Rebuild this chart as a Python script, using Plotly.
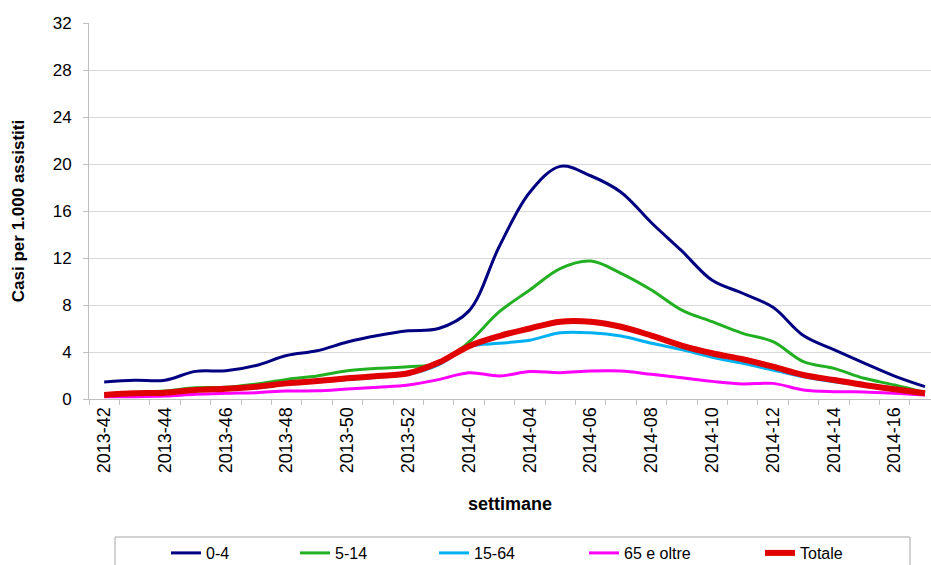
import plotly.graph_objects as go

weeks = ["2013-42", "2013-43", "2013-44", "2013-45", "2013-46", "2013-47", "2013-48",
         "2013-49", "2013-50", "2013-51", "2013-52", "2014-01", "2014-02", "2014-03",
         "2014-04", "2014-05", "2014-06", "2014-07", "2014-08", "2014-09", "2014-10",
         "2014-11", "2014-12", "2014-13", "2014-14", "2014-15", "2014-16", "2014-17"]

age_0_4 = [1.45, 1.6, 1.6, 2.35, 2.4, 2.85, 3.7, 4.1, 4.85, 5.4, 5.8, 6.0, 7.5, 13.0,
           17.6, 19.8, 19.0, 17.6, 15.0, 12.6, 10.1, 9.0, 7.8, 5.4, 4.2, 3.05, 1.95, 1.05]
age_5_14 = [0.45, 0.55, 0.68, 0.96, 1.0, 1.28, 1.67, 1.96, 2.41, 2.61, 2.75, 3.04, 4.85, 7.43,
            9.28, 11.1, 11.74, 10.7, 9.28, 7.57, 6.58, 5.59, 4.88, 3.18, 2.61, 1.76, 1.19, 0.54]
age_15_64 = [0.3, 0.45, 0.5, 0.7, 0.8, 0.95, 1.25, 1.45, 1.65, 1.85, 2.1, 2.9, 4.45, 4.74,
             5.0, 5.64, 5.64, 5.36, 4.74, 4.2, 3.55, 3.04, 2.47, 1.9, 1.47, 1.19, 0.91, 0.49]
age_65 = [0.2, 0.2, 0.25, 0.4, 0.48, 0.54, 0.68, 0.7, 0.85, 1.0, 1.19, 1.65, 2.24, 1.96,
          2.33, 2.24, 2.38, 2.38, 2.1, 1.8, 1.5, 1.28, 1.33, 0.77, 0.62, 0.6, 0.49, 0.34]
totale = [0.34, 0.48, 0.54, 0.77, 0.88, 1.05, 1.33, 1.53, 1.76, 1.96, 2.19, 3.1, 4.5, 5.36,
          6.0, 6.58, 6.58, 6.15, 5.4, 4.55, 3.89, 3.38, 2.75, 2.04, 1.62, 1.19, 0.83, 0.49]

series_names = ["0-4", "5-14", "15-64", "65 e oltre", "Totale"]
series_values = [age_0_4, age_5_14, age_15_64, age_65, totale]
y_ticks = [0, 4, 8, 12, 16, 20, 24, 28, 32]

colors = ["#000080", "#22B022", "#00B0F0", "#FF00FF", "#E00000"]
widths = [3, 3, 3, 3, 6]
legend_ids = ["legend", "legend2", "legend3", "legend4", "legend5"]
legend_x_px = [166, 295, 434, 584, 760]

FONT = "Arial, Liberation Sans, sans-serif"
W, H = 931, 565

x = list(range(len(weeks)))

fig = go.Figure()
for name, vals, col, w, lid in zip(series_names, series_values, colors, widths, legend_ids):
    fig.add_trace(go.Scatter(
        x=x, y=vals, name=name, mode="lines",
        line=dict(color=col, width=w, shape="spline", smoothing=1),
        legend=lid, hoverinfo="skip",
    ))

left, right, top, bottom = 89, 0, 23, 166
plot_w = W - left - right
plot_h = H - top - bottom
cat_px = 30.4
x_max = plot_w / cat_px - 0.5

layout_legends = {}
for lid, px in zip(legend_ids, legend_x_px):
    layout_legends[lid] = dict(
        xref="container", yref="container",
        x=px / W, y=1 - 553 / H, xanchor="left", yanchor="middle",
        orientation="h", bgcolor="rgba(0,0,0,0)", borderwidth=0,
        font=dict(family=FONT, size=16, color="#000000"),
        itemwidth=30,
    )

fig.update_layout(
    width=W, height=H,
    margin=dict(l=left, r=right, t=top, b=bottom, autoexpand=False),
    paper_bgcolor="white", plot_bgcolor="white",
    font=dict(family=FONT, color="#000000"),
    showlegend=True,
    hovermode=False,
    **layout_legends,
    xaxis=dict(
        range=[-0.5, x_max], automargin=False,
        tickvals=x[::2], ticktext=weeks[::2],
        tickangle=-90, ticks="", showgrid=False, zeroline=False,
        showline=True, linecolor="#BFBFBF", linewidth=1,
        tickfont=dict(family=FONT, size=18, color="#000000"),
        minor=dict(tick0=-0.5, dtick=1, ticks="outside", ticklen=5,
                   tickcolor="#BFBFBF", tickwidth=1, showgrid=False),
        title=dict(text="<b>settimane</b>", font=dict(family=FONT, size=18, color="#000000"),
                   standoff=25),
    ),
    yaxis=dict(
        range=[0, 32], tickvals=y_ticks, automargin=False,
        showgrid=True, gridcolor="#D9D9D9", gridwidth=1, zeroline=False,
        showline=True, linecolor="#BFBFBF", linewidth=1,
        ticks="outside", ticklen=5, tickcolor="#BFBFBF", ticklabelstandoff=8,
        tickfont=dict(family=FONT, size=17, color="#000000"),
        title=dict(text="<b>Casi per 1.000 assistiti</b>",
                   font=dict(family=FONT, size=17, color="#000000"), standoff=23),
    ),
    shapes=[dict(type="rect", xref="paper", yref="paper",
                 x0=(115 - left) / plot_w, x1=(910 - left) / plot_w,
                 y0=-(600 - (H - bottom)) / plot_h,
                 y1=-(537 - (H - bottom)) / plot_h,
                 line=dict(color="#A6A6A6", width=1), fillcolor="rgba(0,0,0,0)",
                 layer="below")],
)

fig.write_html("out.html", config={"displayModeBar": False},
               post_script="document.body.style.margin='0';")
